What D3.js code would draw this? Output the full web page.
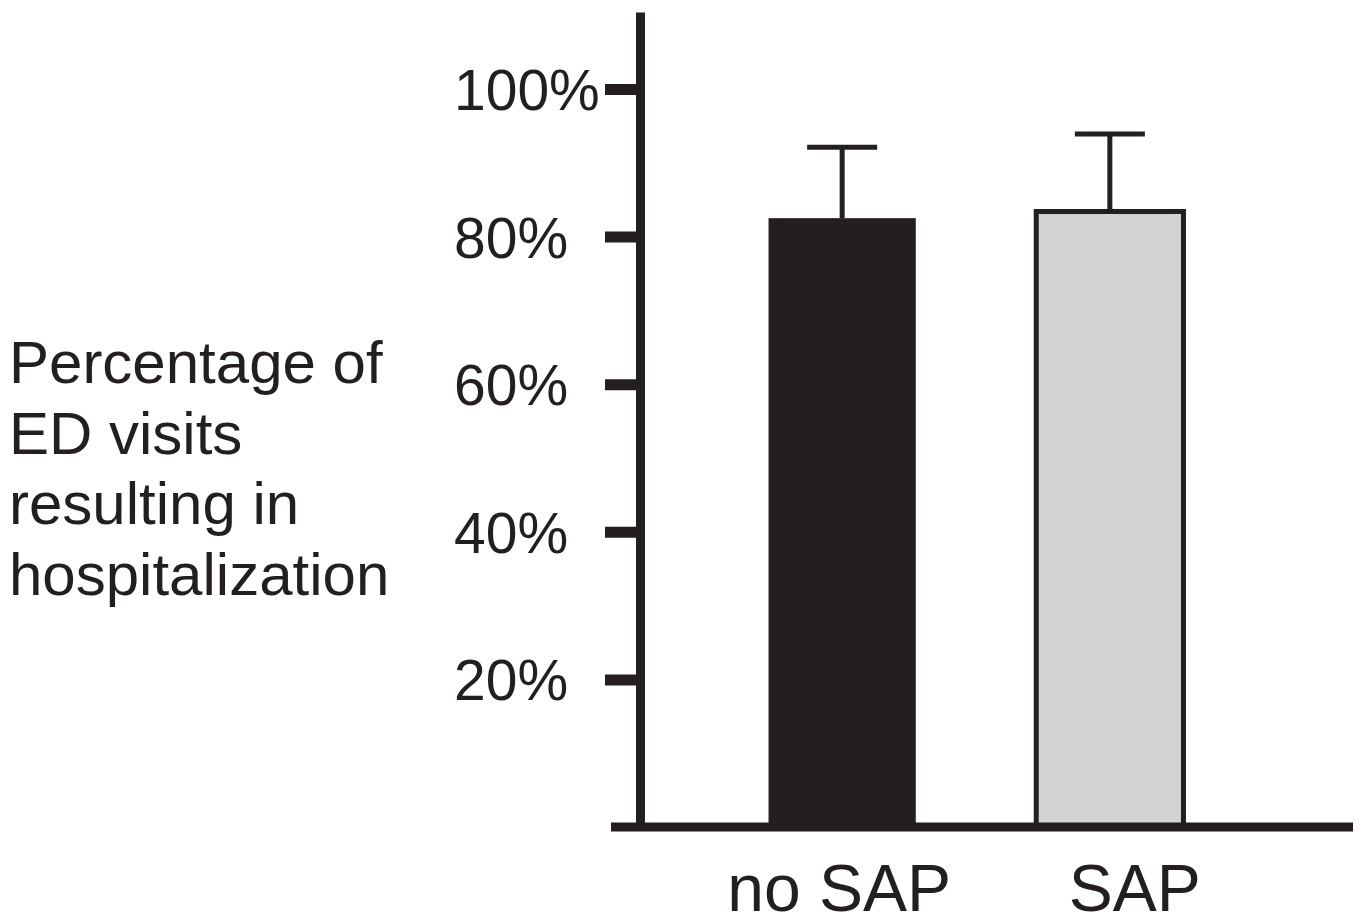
<!DOCTYPE html>
<html>
<head>
<meta charset="utf-8">
<script src="https://cdn.jsdelivr.net/npm/d3@7"></script>
<style>
  body { margin: 0; background: #fff; }
  text { font-family: "Liberation Sans", Arial, Helvetica, sans-serif; fill: #231f20; }
</style>
</head>
<body>
<svg id="chart"></svg>
<script>
// data
const categories = ["no SAP", "SAP"];
const values = [82.5, 83.4];
const errorTops = [92.1, 93.9];
const tickValues = [20, 40, 60, 80, 100];
const tickLabels = ["20%", "40%", "60%", "80%", "100%"];
const yLabelLines = ["Percentage of", "ED visits", "resulting in", "hospitalization"];

const width = 1361,
  height = 918,
  ink = "#231f20";

const svg = d3.select("#chart").attr("width", width).attr("height", height);

// scales
const y = d3.scaleLinear().domain([0, 100]).range([827, 89]);
const yTop = y.invert(12);

const x = d3
  .scaleBand()
  .domain(categories)
  .range([715, 1237])
  .paddingInner(0.45)
  .paddingOuter(0.2);

const fills = [ink, "#d1d3d4"];
const strokes = [0, 5];
const labelDx = [-3, 25];

// bars
svg
  .selectAll("rect.bar")
  .data(values)
  .enter()
  .append("rect")
  .attr("class", "bar")
  .attr("x", function(d, i) {
    return x(categories[i]);
  })
  .attr("y", function(d) {
    return y(d);
  })
  .attr("width", x.bandwidth())
  .attr("height", function(d) {
    return y(0) - y(d);
  })
  .attr("fill", function(d, i) {
    return fills[i];
  })
  .attr("stroke", ink)
  .attr("stroke-width", function(d, i) {
    return strokes[i];
  });

// error bars (upper only)
const err = svg
  .selectAll("g.err")
  .data(errorTops)
  .enter()
  .append("g")
  .attr("class", "err")
  .attr("transform", function(d, i) {
    return "translate(" + (x(categories[i]) + x.bandwidth() / 2) + ",0)";
  });

err
  .append("line")
  .attr("y1", function(d, i) {
    return y(values[i]);
  })
  .attr("y2", function(d) {
    return y(d);
  })
  .attr("stroke", ink)
  .attr("stroke-width", 5);

err
  .append("line")
  .attr("x1", -35)
  .attr("x2", 35)
  .attr("y1", function(d) {
    return y(d);
  })
  .attr("y2", function(d) {
    return y(d);
  })
  .attr("stroke", ink)
  .attr("stroke-width", 5);

// y axis
const yAxis = d3
  .axisLeft(d3.scaleLinear().domain([0, yTop]).range([y(0), y(yTop)]))
  .tickValues(tickValues)
  .tickSize(35)
  .tickSizeOuter(0)
  .tickFormat(function(d, i) {
    return tickLabels[i];
  });

const gy = svg
  .append("g")
  .attr("transform", "translate(640,0)")
  .call(yAxis);

gy.select(".domain").attr("stroke", ink).attr("stroke-width", 9);
gy.selectAll(".tick line").attr("stroke", ink).attr("stroke-width", 11);
gy.selectAll(".tick text")
  .attr("x", -186)
  .attr("dy", "0.36em")
  .attr("text-anchor", "start")
  .style("font-size", "57px")
  .style("font-family", '"Liberation Sans", Arial, sans-serif')
  .attr("fill", ink);

// baseline
svg
  .append("line")
  .attr("x1", 611)
  .attr("x2", 1353)
  .attr("y1", y(0))
  .attr("y2", y(0))
  .attr("stroke", ink)
  .attr("stroke-width", 9);

// category labels
svg
  .selectAll("text.cat")
  .data(categories)
  .enter()
  .append("text")
  .attr("class", "cat")
  .attr("x", function(d, i) {
    return x(d) + x.bandwidth() / 2 + labelDx[i];
  })
  .attr("y", 911)
  .attr("text-anchor", "middle")
  .style("font-size", "66px")
  .text(function(d) {
    return d;
  });

// y label
svg
  .append("text")
  .attr("x", 9)
  .attr("y", 383)
  .style("font-size", "60px")
  .selectAll("tspan")
  .data(yLabelLines)
  .enter()
  .append("tspan")
  .attr("x", 9)
  .attr("dy", function(d, i) {
    return i === 0 ? 0 : 70.7;
  })
  .text(function(d) {
    return d;
  });
</script>
</body>
</html>
